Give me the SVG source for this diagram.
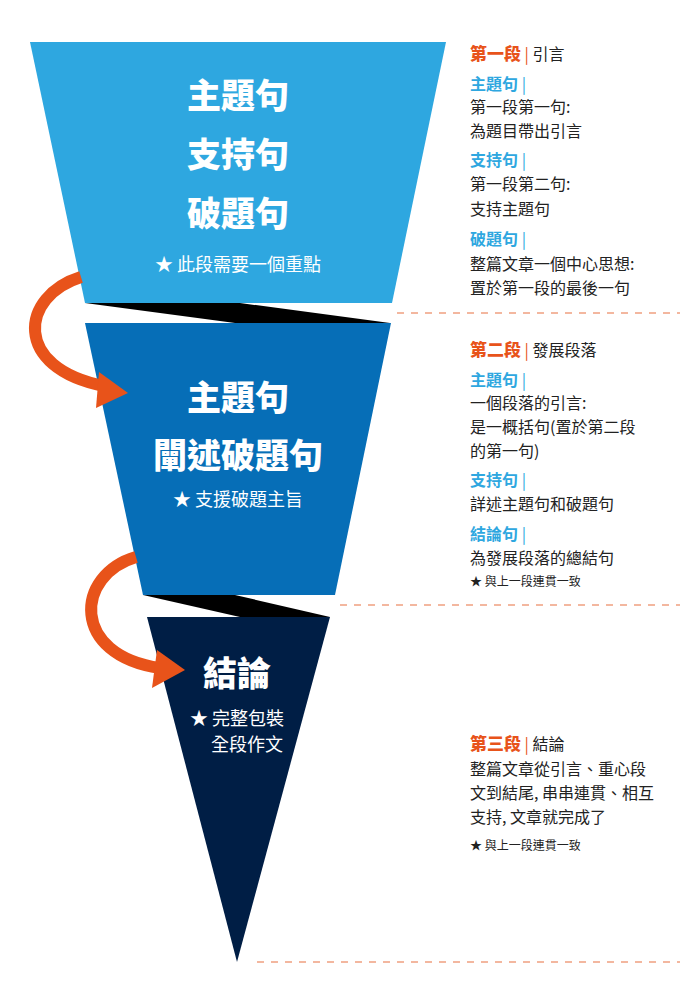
<svg xmlns="http://www.w3.org/2000/svg" width="700" height="1000" viewBox="0 0 700 1000">
<style>
text{font-family:"Noto Sans CJK TC","Noto Sans CJK SC",sans-serif}
.big{font-size:34px;font-weight:900;fill:#fff;text-anchor:middle}
.sub{font-size:18px;fill:#fff;text-anchor:middle}
.b{font-size:16px;fill:#222}
.h{font-size:16px;font-weight:700;fill:#2ea7e0}
.o{font-size:17px;font-weight:900;fill:#e8531a}
.s{font-size:12px;fill:#222}
.dash{stroke:#f0a080;stroke-width:1.5;stroke-dasharray:7 7;fill:none}
.arc{stroke:#e8531a;stroke-width:12;fill:none}
</style>
<rect width="700" height="1000" fill="#fff"/>
<g id="shadows">
<polygon points="85,303 240,303 390,323 235,323" fill="#000"/>
<polygon points="143,595 235,595 330,617 240,617" fill="#000"/>
</g>
<g id="node1">
<polygon points="30,42 446,42 392,303 85,303" fill="#2ea7e0"/>
<text class="big" x="238" y="108">主題句</text>
<text class="big" x="238" y="167">支持句</text>
<text class="big" x="238" y="226">破題句</text>
<text class="sub" x="238" y="271">★ 此段需要一個重點</text>
</g>
<g id="node2">
<polygon points="85,323 391,323 335,595 143,595" fill="#066eb7"/>
<text class="big" x="238" y="410">主題句</text>
<text class="big" x="238" y="468">闡述破題句</text>
<text class="sub" x="238" y="506">★ 支援破題主旨</text>
</g>
<g id="node3">
<polygon points="147,617 330,617 237,962" fill="#001e45"/>
<text class="big" x="237" y="686">結論</text>
<text class="sub" x="237" y="725">★ 完整包裝</text>
<text class="sub" x="247" y="751">全段作文</text>
</g>
<g id="connectors">
<path class="arc" d="M81,277 C20,296 12,368 104,386"/>
<polygon points="128,393 99,372 96,408" fill="#e8531a"/>
<path class="arc" d="M136,557 C75,575 70,655 160,668"/>
<polygon points="185,670 157,650 152,688" fill="#e8531a"/>
<line class="dash" x1="397" y1="313" x2="680" y2="313"/>
<line class="dash" x1="340" y1="605" x2="680" y2="605"/>
<line class="dash" x1="257" y1="962" x2="680" y2="962"/>
</g>
<g id="notes1">
<text x="470" y="60"><tspan class="o">第一段</tspan><tspan font-size="16" fill="#e8531a"> | </tspan><tspan class="b">引言</tspan></text>
<text class="h" x="470" y="90">主題句 <tspan font-weight="400">|</tspan></text>
<text class="b" x="470" y="113">第一段第一句:</text>
<text class="b" x="470" y="137">為題目帶出引言</text>
<text class="h" x="470" y="166">支持句 <tspan font-weight="400">|</tspan></text>
<text class="b" x="470" y="190">第一段第二句:</text>
<text class="b" x="470" y="215">支持主題句</text>
<text class="h" x="470" y="245">破題句 <tspan font-weight="400">|</tspan></text>
<text class="b" x="470" y="270">整篇文章一個中心思想:</text>
<text class="b" x="470" y="294">置於第一段的最後一句</text>
</g>
<g id="notes2">
<text x="470" y="356"><tspan class="o">第二段</tspan><tspan font-size="16" fill="#e8531a"> | </tspan><tspan class="b">發展段落</tspan></text>
<text class="h" x="470" y="386">主題句 <tspan font-weight="400">|</tspan></text>
<text class="b" x="470" y="409">一個段落的引言:</text>
<text class="b" x="470" y="433">是一概括句(置於第二段</text>
<text class="b" x="470" y="457">的第一句)</text>
<text class="h" x="470" y="486">支持句 <tspan font-weight="400">|</tspan></text>
<text class="b" x="470" y="510">詳述主題句和破題句</text>
<text class="h" x="470" y="540">結論句 <tspan font-weight="400">|</tspan></text>
<text class="b" x="470" y="564">為發展段落的總結句</text>
<text class="s" x="470" y="586">★ 與上一段連貫一致</text>
</g>
<g id="notes3">
<text x="470" y="750"><tspan class="o">第三段</tspan><tspan font-size="16" fill="#e8531a"> | </tspan><tspan class="b">結論</tspan></text>
<text class="b" x="470" y="775">整篇文章從引言、重心段</text>
<text class="b" x="470" y="799">文到結尾, 串串連貫、相互</text>
<text class="b" x="470" y="823">支持, 文章就完成了</text>
<text class="s" x="470" y="850">★ 與上一段連貫一致</text>
</g>
</svg>
